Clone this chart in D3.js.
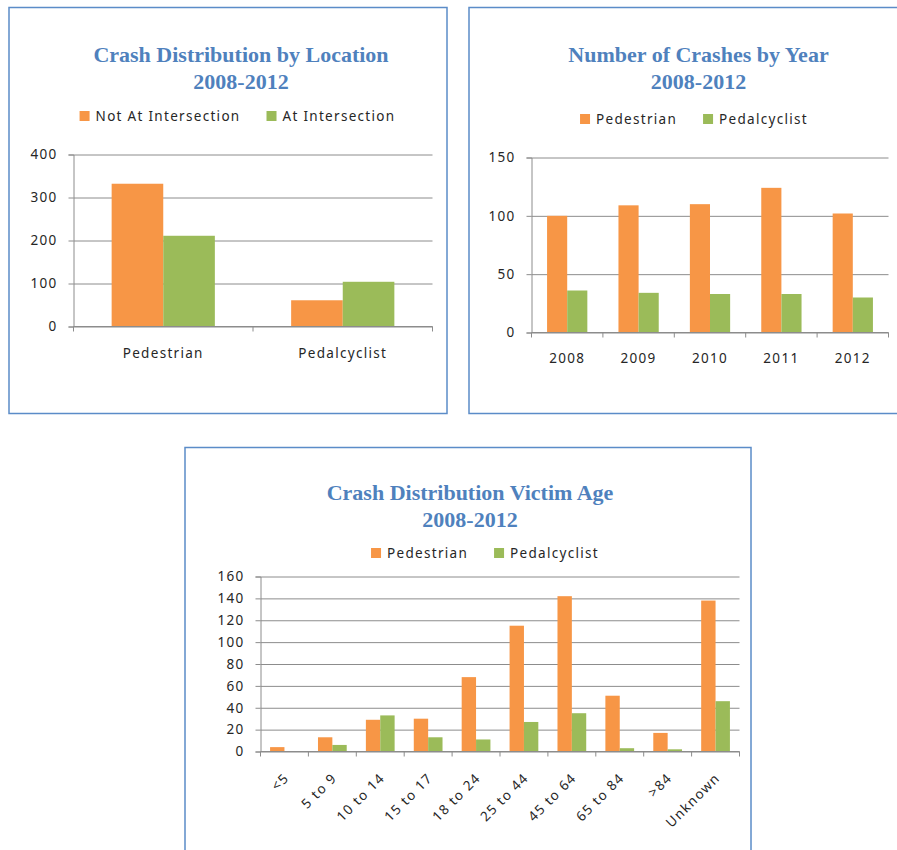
<!DOCTYPE html>
<html>
<head>
<meta charset="utf-8">
<script src="https://cdn.jsdelivr.net/npm/d3@7"></script>
<style>
  body { margin: 0; background: #fff; }
  svg { display: block; }
  .tick text { font-family: "Noto Sans", sans-serif; fill: #262626; letter-spacing: 1.3px; }
</style>
</head>
<body>
<svg id="page" width="897" height="850"></svg>
<script>
// --- data ---
var locCategories = ["Pedestrian", "Pedalcyclist"];
var locNotAt = [332, 61];
var locAt = [211, 104];

var yearCategories = ["2008", "2009", "2010", "2011", "2012"];
var yearPed = [100, 109, 110, 124, 102];
var yearCyc = [36, 34, 33, 33, 30];

var ageCategories = ["<5", "5 to 9", "10 to 14", "15 to 17", "18 to 24",
                     "25 to 44", "45 to 64", "65 to 84", ">84", "Unknown"];
var agePed = [4, 13, 29, 30, 68, 115, 142, 51, 17, 138];
var ageCyc = [0, 6, 33, 13, 11, 27, 35, 3, 2, 46];

var ORANGE = "#f79646";
var GREEN = "#9bbb59";
var TITLE = "#4f81bd";
var GRID = "#8c8c8c";
var LABEL_FONT = "13.5px 'Noto Sans', sans-serif";

var svg = d3.select("#page");

function drawChart(cfg) {
  var g = svg.append("g");

  // panel border
  g.append("rect")
      .attr("x", cfg.panel[0]).attr("y", cfg.panel[1])
      .attr("width", cfg.panel[2]).attr("height", cfg.panel[3])
      .attr("fill", "none")
      .attr("stroke", "#5b8cc8")
      .attr("stroke-width", 1.5);

  // title
  var title = g.append("text")
      .attr("text-anchor", "middle")
      .attr("fill", TITLE)
      .style("font", "bold 22px 'Liberation Serif', serif");
  cfg.title.forEach(function(line, i) {
    title.append("tspan")
        .attr("x", cfg.titleX)
        .attr("y", cfg.titleY + i * 26.5)
        .text(line);
  });

  // legend, laid out from measured text widths
  var legend = g.append("g");
  var cursor = 0;
  cfg.legend.forEach(function(name, i) {
    var item = legend.append("g").attr("transform", "translate(" + cursor + ",0)");
    item.append("rect")
        .attr("x", 0).attr("y", -5)
        .attr("width", 10).attr("height", 10)
        .attr("fill", cfg.colors[i]);
    var t = item.append("text")
        .attr("x", 16).attr("dy", "0.36em")
        .attr("fill", "#262626")
        .style("font", LABEL_FONT)
        .style("letter-spacing", "1.3px")
        .text(name);
    cursor += 16 + t.node().getComputedTextLength() + 26;
  });
  var legendW = cursor - 26;
  legend.attr("transform", "translate(" + (cfg.legendX - legendW / 2) + "," + cfg.legendY + ")");

  // plot
  var p = cfg.plot; // [left, top, right, bottom]
  var width = p[2] - p[0];
  var height = p[3] - p[1];
  var plot = g.append("g").attr("transform", "translate(" + p[0] + "," + p[1] + ")");

  var x0 = d3.scaleBand()
      .domain(cfg.categories)
      .range([0, width])
      .paddingInner(cfg.padding)
      .paddingOuter(cfg.padding / 2);

  var x1 = d3.scaleBand()
      .domain(d3.range(cfg.series.length))
      .range([0, x0.bandwidth()]);

  var y = d3.scaleLinear()
      .domain([0, cfg.yMax])
      .range([height, 0]);

  var ticks = d3.range(0, cfg.yMax + 1, cfg.yStep);

  // gridlines
  plot.append("g")
      .call(d3.axisLeft(y).tickValues(ticks).tickSize(-width).tickFormat(""))
      .call(function(s) { s.select(".domain").remove(); })
      .selectAll("line").attr("stroke", GRID);

  // bars
  cfg.series.forEach(function(values, si) {
    plot.append("g")
        .attr("fill", cfg.colors[si])
      .selectAll("rect")
      .data(values)
      .enter().append("rect")
        .attr("x", function(d, i) { return x0(cfg.categories[i]) + x1(si); })
        .attr("y", function(d) { return y(d); })
        .attr("width", x1.bandwidth())
        .attr("height", function(d) { return height - y(d); });
  });

  // y axis
  var yAxis = plot.append("g")
      .call(d3.axisLeft(y).tickValues(ticks).tickSize(5).tickPadding(11));
  yAxis.select(".domain").attr("stroke", GRID);
  yAxis.selectAll("line").attr("stroke", GRID);
  yAxis.selectAll("text").style("font", LABEL_FONT);

  // x axis: line plus ticks at category boundaries
  var bounds = cfg.categories.map(function(c) { return x0(c) - x0.step() * cfg.padding / 2; });
  bounds.push(width);
  var xAxis = plot.append("g").attr("transform", "translate(0," + height + ")");
  xAxis.append("line")
      .attr("x1", 0).attr("x2", width)
      .attr("stroke", GRID);
  xAxis.selectAll(".btick")
    .data(bounds)
    .enter().append("line")
      .attr("class", "btick")
      .attr("x1", function(d) { return d; }).attr("x2", function(d) { return d; })
      .attr("y1", 0).attr("y2", 5)
      .attr("stroke", GRID);

  var labels = xAxis.selectAll(".xlabel")
    .data(cfg.categories)
    .enter().append("text")
      .attr("class", "xlabel")
      .attr("fill", "#262626")
      .style("font", LABEL_FONT)
      .style("letter-spacing", "1.3px")
      .text(function(d) { return d; });

  if (cfg.rotate) {
    labels
        .attr("text-anchor", "end")
        .attr("dy", "0.35em")
        .attr("transform", function(d) {
          return "translate(" + (x0(d) + x0.bandwidth() / 2 + 2) + ",24) rotate(-45)";
        });
  } else {
    labels
        .attr("text-anchor", "middle")
        .attr("x", function(d) { return x0(d) + x0.bandwidth() / 2; })
        .attr("y", cfg.labelY);
  }
}

drawChart({
  panel: [9, 7.5, 438, 406],
  title: ["Crash Distribution by Location", "2008-2012"],
  titleX: 241, titleY: 62,
  legend: ["Not At Intersection", "At Intersection"],
  legendX: 237.5, legendY: 116,
  colors: [ORANGE, GREEN],
  plot: [73.5, 154.5, 432.5, 326.5],
  categories: locCategories,
  series: [locNotAt, locAt],
  yMax: 400, yStep: 100,
  padding: 0.425,
  labelY: 31
});

drawChart({
  panel: [469, 7.5, 440, 406],
  title: ["Number of Crashes by Year", "2008-2012"],
  titleX: 698.5, titleY: 62,
  legend: ["Pedestrian", "Pedalcyclist"],
  legendX: 694, legendY: 119,
  colors: [ORANGE, GREEN],
  plot: [531.5, 157.5, 888.5, 332.5],
  categories: yearCategories,
  series: [yearPed, yearCyc],
  yMax: 150, yStep: 50,
  padding: 0.436,
  labelY: 30.5
});

drawChart({
  panel: [185, 447.5, 566, 420],
  title: ["Crash Distribution Victim Age", "2008-2012"],
  titleX: 470, titleY: 500,
  legend: ["Pedestrian", "Pedalcyclist"],
  legendX: 485, legendY: 553,
  colors: [ORANGE, GREEN],
  plot: [260.5, 576.5, 739.5, 751.5],
  categories: ageCategories,
  series: [agePed, ageCyc],
  yMax: 160, yStep: 20,
  padding: 0.4,
  rotate: true
});
</script>
</body>
</html>
